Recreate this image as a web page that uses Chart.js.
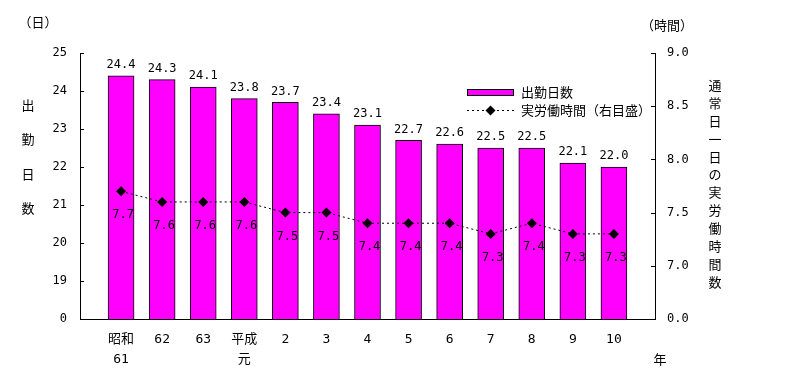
<!DOCTYPE html>
<html><head><meta charset="utf-8">
<script src="https://cdn.jsdelivr.net/npm/chart.js@4/dist/chart.umd.min.js"></script>
<style>html,body{margin:0;padding:0;background:#fff}#wrap{width:797px;height:386px}</style>
</head><body><div id="wrap"><canvas id="c" width="797" height="386"></canvas></div>
<script>
// ---- data ----
const categories = [['昭和','61'],'62','63',['平成','元'],'2','3','4','5','6','7','8','9','10'];
const workDays = [24.4,24.3,24.1,23.8,23.7,23.4,23.1,22.7,22.6,22.5,22.5,22.1,22.0];
const workHours = [7.7,7.6,7.6,7.6,7.5,7.5,7.4,7.4,7.4,7.3,7.4,7.3,7.3];
const leftTickLabels = ['0','19','20','21','22','23','24','25'];
const rightTickLabels = ['0.0','7.0','7.5','8.0','8.5','9.0'];
const seriesNames = ['出勤日数','実労働時間（右目盛）'];

// broken axes: left 0 | 19..25 ; right 0.0 | 7.0..9.0
const leftPos = v => v - 18;
const rightPos = v => (v - 7.0) / 0.5 + 1;

const NUM = "'DejaVu Sans Mono', 'Noto Sans CJK JP'";
const CJK = "'Noto Sans CJK JP'";
const MAG = '#FF00FF';

const overlay = {
  id: 'overlay',
  afterDraw(chart) {
    const {ctx, chartArea: a, scales} = chart;
    ctx.save();
    ctx.strokeStyle = '#000'; ctx.lineWidth = 1; ctx.fillStyle = '#000';
    // inside tick marks
    scales.y.ticks.forEach((t, i) => {
      const y = Math.round(scales.y.getPixelForTick(i)) + 0.5;
      ctx.beginPath(); ctx.moveTo(a.left, y); ctx.lineTo(a.left + 4, y); ctx.stroke();
    });
    scales.y2.ticks.forEach((t, i) => {
      const y = Math.round(scales.y2.getPixelForTick(i)) + 0.5;
      ctx.beginPath(); ctx.moveTo(a.right, y); ctx.lineTo(a.right - 4, y); ctx.stroke();
    });
    // bar labels
    ctx.font = '12px ' + NUM;
    ctx.textAlign = 'center'; ctx.textBaseline = 'bottom';
    chart.getDatasetMeta(0).data.forEach((el, i) => {
      ctx.fillText(workDays[i].toFixed(1), el.x, el.y - 5);
    });
    // line labels
    ctx.textBaseline = 'middle';
    chart.getDatasetMeta(1).data.forEach((el, i) => {
      ctx.fillText(workHours[i].toFixed(1), el.x + 2, el.y + 24);
    });
    // axis titles
    ctx.font = '13px ' + CJK;
    ctx.textAlign = 'center';
    ctx.fillText('（日）', 38, 22);
    ctx.fillText('（時間）', 667, 25);
    const lt = '出勤日数';
    for (let i = 0; i < lt.length; i++) ctx.fillText(lt[i], 28, 105 + i * 34.5);
    const rt = '通常日一日の実労働時間数';
    for (let i = 0; i < rt.length; i++) ctx.fillText(rt[i], 715, 85 + i * 17.9);
    ctx.fillText('年', 660, 359);
    // legend
    ctx.fillStyle = MAG;
    ctx.fillRect(467, 89, 47, 7);
    ctx.strokeRect(467.5, 89.5, 46, 6);
    ctx.fillStyle = '#000';
    ctx.textAlign = 'left';
    ctx.fillText(seriesNames[0], 521, 92);
    ctx.fillText(seriesNames[1], 521, 110);
    ctx.setLineDash([2, 3]);
    ctx.beginPath(); ctx.moveTo(467, 110.5); ctx.lineTo(514, 110.5); ctx.stroke();
    ctx.setLineDash([]);
    ctx.beginPath();
    ctx.moveTo(490.5, 105.5); ctx.lineTo(495.5, 110.5); ctx.lineTo(490.5, 115.5); ctx.lineTo(485.5, 110.5);
    ctx.closePath(); ctx.fill();
    ctx.restore();
  }
};

new Chart(document.getElementById('c'), {
  data: {
    datasets: [
      {
        type: 'bar', label: seriesNames[0], order: 2,
        data: workDays.map((v, i) => ({x: i, y: leftPos(v)})),
        backgroundColor: MAG, borderColor: '#000', borderWidth: 1,
        barThickness: 26, yAxisID: 'y', xAxisID: 'x'
      },
      {
        type: 'line', label: seriesNames[1], order: 1,
        data: workHours.map((v, i) => ({x: i, y: rightPos(v)})),
        borderColor: '#000', borderWidth: 1, borderDash: [2, 3],
        pointStyle: 'rectRot', pointRadius: 5, pointBackgroundColor: '#000', pointBorderColor: '#000',
        pointBorderWidth: 0, tension: 0, fill: false, yAxisID: 'y2', xAxisID: 'x'
      }
    ]
  },
  options: {
    responsive: false, animation: false, devicePixelRatio: 1,
    layout: {padding: {top: 53, left: 0, right: 0, bottom: 0}},
    plugins: {legend: {display: false}, tooltip: {enabled: false}},
    scales: {
      x: {
        type: 'linear', position: 'bottom', min: -1, max: 13, offset: false,
        grid: {display: false, drawTicks: false, offset: false},
        border: {display: true, color: '#000', width: 1},
        ticks: {
          stepSize: 1, autoSkip: false, maxRotation: 0, padding: 11, color: '#000',
          font: {family: NUM, size: 13, lineHeight: 20 / 13},
          callback: v => (v >= 0 && v < categories.length ? categories[v] : '')
        },
        afterFit: s => { s.height = 67; }
      },
      y: {
        type: 'linear', position: 'left', min: 0, max: 7,
        grid: {display: false, drawTicks: false},
        border: {display: true, color: '#000', width: 1},
        ticks: {stepSize: 1, padding: 13, color: '#000', font: {family: NUM, size: 12},
          callback: v => leftTickLabels[v]},
        afterFit: s => { s.width = 80; }
      },
      y2: {
        type: 'linear', position: 'right', min: 0, max: 5,
        grid: {display: false, drawTicks: false},
        border: {display: true, color: '#000', width: 1},
        ticks: {stepSize: 1, padding: 12, color: '#000', font: {family: NUM, size: 12},
          callback: v => rightTickLabels[v]},
        afterFit: s => { s.width = 142; }
      }
    }
  },
  plugins: [overlay]
});
</script></body></html>
